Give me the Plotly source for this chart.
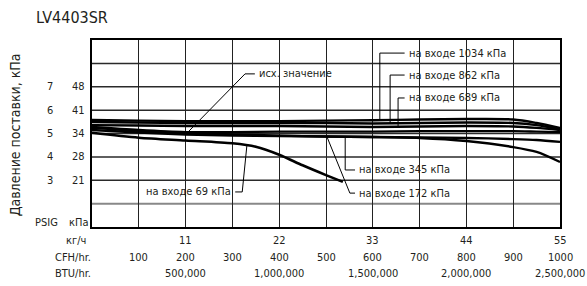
import plotly.graph_objects as go

# ---- data ----
cfh = [0, 100, 200, 300, 400, 500, 600, 700, 800, 900, 950, 1000]
p1034 = [5.58, 5.55, 5.53, 5.53, 5.53, 5.55, 5.57, 5.60, 5.62, 5.60, 5.45, 5.24]
p862 = [5.49, 5.47, 5.45, 5.45, 5.45, 5.45, 5.43, 5.45, 5.47, 5.45, 5.36, 5.19]
p689 = [5.36, 5.34, 5.32, 5.32, 5.32, 5.30, 5.28, 5.30, 5.32, 5.30, 5.24, 5.15]
pref = [5.28, 5.15, 5.06, 5.06, 5.08, 5.08, 5.08, 5.10, 5.10, 5.10, 5.08, 5.06]
p345 = [5.24, 5.11, 5.02, 4.96, 4.91, 4.87, 4.85, 4.83, 4.81, 4.76, 4.72, 4.64]
p172 = [5.15, 5.04, 4.96, 4.91, 4.89, 4.87, 4.85, 4.81, 4.68, 4.42, 4.21, 3.78]
cfh69 = [0, 100, 200, 300, 350, 400, 450, 500, 536]
p69 = [5.03, 4.82, 4.70, 4.58, 4.43, 4.09, 3.64, 3.22, 2.93]

psig_ticks = [7, 6, 5, 4, 3]
kpa_ticks = [48, 41, 34, 28, 21]
psig_grid = [2, 3, 4, 5, 6, 7, 8]
kg_ticks = [11, 22, 33, 44, 55]
kg_pos = [200, 400, 600, 800, 1000]
cfh_ticks = [100, 200, 300, 400, 500, 600, 700, 800, 900, 1000]
btu_ticks = ["500,000", "1,000,000", "1,500,000", "2,000,000", "2,500,000"]
btu_pos = [200, 400, 600, 800, 1000]

FONT = "DejaVu Sans Condensed, Liberation Sans Narrow, sans-serif"
TXT = "#231f20"

fig = go.Figure()
for ys in [p1034, p862, p689, pref, p345, p172]:
    fig.add_trace(go.Scatter(x=cfh, y=ys, mode="lines",
                             line=dict(color="black", width=2.4, shape="spline", smoothing=0.8),
                             showlegend=False, hoverinfo="skip"))
fig.add_trace(go.Scatter(x=cfh69, y=p69, mode="lines",
                         line=dict(color="black", width=2.6, shape="spline", smoothing=0.8),
                         showlegend=False, hoverinfo="skip"))

shapes = []
for g in psig_grid:
    shapes.append(dict(type="line", xref="paper", yref="y", x0=0, x1=1, y0=g, y1=g,
                       line=dict(color="#888888" if g == 2 else "#2a2a2a",
                                 width=2 if g == 2 else 1.5), layer="below"))
leaders = [
    [(348, 7.55), (327, 7.55), (205, 5.06)],       # исх. значение
    [(668, 8.44), (615, 8.44), (615, 5.58)],       # 1034
    [(668, 7.50), (637, 7.50), (637, 5.42)],       # 862
    [(668, 6.52), (654, 6.52), (654, 5.29)],       # 689
    [(562, 3.44), (541, 3.44), (541, 4.81)],       # 345
    [(562, 2.45), (551, 2.45), (502, 4.86)],       # 172
    [(306, 2.50), (321, 2.50), (331, 4.50)],       # 69
]
for pts in leaders:
    path = "M " + " L ".join(f"{x},{y}" for x, y in pts)
    shapes.append(dict(type="path", xref="x", yref="y", path=path,
                       line=dict(color="black", width=1)))

ann = []
def A(**k):
    d = dict(showarrow=False, font=dict(family=FONT, size=11, color=TXT))
    d.update(k)
    ann.append(d)

A(x=352, y=7.55, xref="x", yref="y", text="исх. значение", xanchor="left", yanchor="middle")
A(x=672, y=8.44, xref="x", yref="y", text="на входе 1034 кПа", xanchor="left", yanchor="middle")
A(x=672, y=7.50, xref="x", yref="y", text="на входе 862 кПа", xanchor="left", yanchor="middle")
A(x=672, y=6.52, xref="x", yref="y", text="на входе 689 кПа", xanchor="left", yanchor="middle")
A(x=566, y=3.44, xref="x", yref="y", text="на входе 345 кПа", xanchor="left", yanchor="middle")
A(x=566, y=2.45, xref="x", yref="y", text="на входе 172 кПа", xanchor="left", yanchor="middle")
A(x=302, y=2.50, xref="x", yref="y", text="на входе 69 кПа", xanchor="right", yanchor="middle")

for p, k in zip(psig_ticks, kpa_ticks):
    A(x=0, xref="paper", xshift=-42, y=p, yref="y", text=str(p), xanchor="center", yanchor="middle")
    A(x=0, xref="paper", xshift=-14, y=p, yref="y", text=str(k), xanchor="center", yanchor="middle")
A(x=0, xref="paper", xshift=-46, y=1.21, yref="y", text="PSIG", xanchor="center", yanchor="middle")
A(x=0, xref="paper", xshift=-13, y=1.21, yref="y", text="кПа", xanchor="center", yanchor="middle")

A(x=0, xref="paper", xshift=-4, y=0, yref="paper", yshift=-13, text="кг/ч", xanchor="right", yanchor="middle")
A(x=0, xref="paper", xshift=1, y=0, yref="paper", yshift=-30, text="CFH/hr.", xanchor="right", yanchor="middle")
A(x=0, xref="paper", xshift=1, y=0, yref="paper", yshift=-46, text="BTU/hr.", xanchor="right", yanchor="middle")
for v, p in zip(kg_ticks, kg_pos):
    A(x=p, xref="x", y=0, yref="paper", yshift=-13, text=str(v), xanchor="center", yanchor="middle")
for v in cfh_ticks:
    A(x=v, xref="x", y=0, yref="paper", yshift=-30, text=str(v), xanchor="center", yanchor="middle")
for v, p in zip(btu_ticks, btu_pos):
    A(x=p, xref="x", y=0, yref="paper", yshift=-46, text=v, xanchor="center", yanchor="middle")

A(x=0, xref="paper", xshift=-77, y=0.49, yref="paper", text="Давление поставки, кПа",
  textangle=-90, xanchor="center", yanchor="middle",
  font=dict(family="DejaVu Sans Condensed, sans-serif", size=14, color=TXT))
A(x=0, xref="paper", xshift=-58, y=1, yref="paper", yshift=23, text="LV4403SR", xanchor="left",
  yanchor="middle", font=dict(family="DejaVu Sans Condensed, sans-serif", size=16, color=TXT))

fig.update_layout(
    width=587, height=286,
    margin=dict(l=92, r=27, t=40, b=59),
    paper_bgcolor="white", plot_bgcolor="white",
    xaxis=dict(range=[0, 1000], dtick=100, tick0=0, tickmode="linear", showticklabels=False,
               showgrid=True, gridcolor="#222222", gridwidth=1.3, zeroline=False,
               showline=True, linecolor="black", linewidth=1.5, mirror=True, ticks=""),
    yaxis=dict(range=[1, 9], showticklabels=False, showgrid=False, zeroline=False,
               showline=True, linecolor="black", linewidth=1.5, mirror=True, ticks=""),
    shapes=shapes, annotations=ann,
)
fig.write_html("out.html", config={"displayModeBar": False},
               post_script="document.body.style.margin='0';document.body.style.padding='0';")
